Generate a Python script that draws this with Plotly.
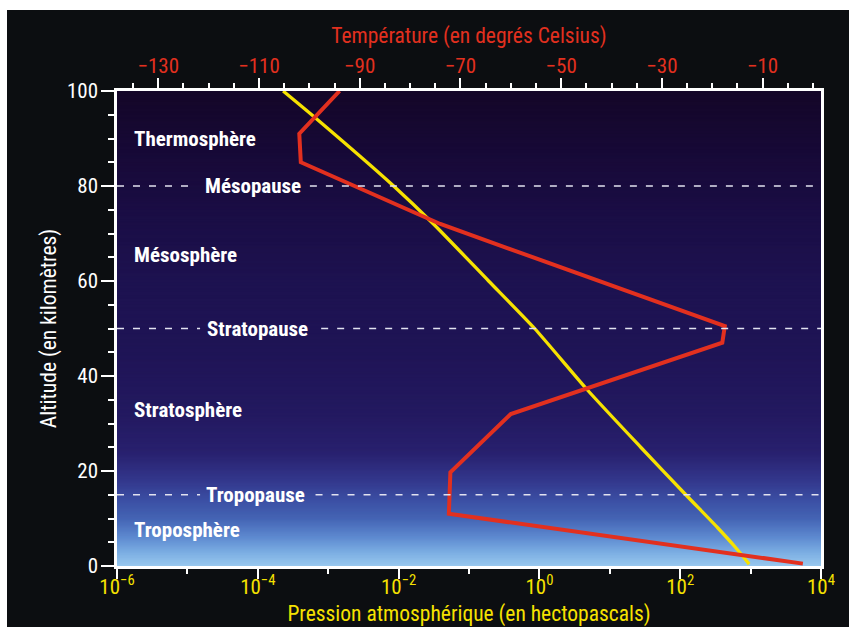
import plotly.graph_objects as go

# ---- data ----
temp_altitude_km = [100, 91, 85, 72, 50.5, 47, 32, 19.7, 11, 0.5]
temperature_c = [-94, -102, -101.7, -74, -17.5, -18, -60, -72, -72.3, -2]

pressure_altitude_km = [100, 94, 80, 72, 60, 50, 37, 25, 15, 8, 4, 0.4]
pressure_hpa = [2.29e-4, 7.0e-4, 8.5e-3, 0.0313, 0.19, 0.855, 4.85, 27.5, 120, 343, 603, 955]

pressure_tickvals = [1e-6, 1e-4, 1e-2, 1, 1e2, 1e4]
pressure_ticktext = ["10<sup>−6</sup>", "10<sup>−4</sup>", "10<sup>−2</sup>",
                     "10<sup>0</sup>", "10<sup>2</sup>", "10<sup>4</sup>"]
pressure_minor = [1e-5, 1e-3, 1e-1, 1e1, 1e3]
temp_tickvals = [-130, -110, -90, -70, -50, -30, -10]

layer_names = ["Thermosphère", "Mésosphère", "Stratosphère", "Troposphère"]
layer_alt = [90, 65.5, 32.8, 7.6]
boundary_names = ["Mésopause", "Stratopause", "Tropopause"]
boundary_alt = [80, 50, 15]

# ---- style ----
FONT = "Roboto Condensed, Roboto, Liberation Sans, sans-serif"
RED = "#e2301f"
YELLOW = "#f6e200"
WHITE = "#ffffff"
BG = "#0c0e11"

grad_stops = [
    (0, (152, 200, 238)), (3, (122, 172, 226)), (6, (94, 138, 208)),
    (10, (68, 100, 180)), (14, (59, 78, 163)), (18, (51, 55, 140)),
    (24, (40, 32, 110)), (32, (35, 25, 96)), (45, (31, 20, 86)),
    (60, (29, 18, 80)), (75, (26, 13, 68)), (88, (23, 9, 54)), (100, (20, 6, 40)),
]


def grad_color(a):
    for (a0, c0), (a1, c1) in zip(grad_stops[:-1], grad_stops[1:]):
        if a0 <= a <= a1:
            t = (a - a0) / (a1 - a0)
            c = [round(c0[i] + (c1[i] - c0[i]) * t) for i in range(3)]
            return "rgb(%d,%d,%d)" % tuple(c)
    return "rgb(%d,%d,%d)" % grad_stops[-1][1]


fig = go.Figure()

fig.add_trace(go.Scatter(
    x=pressure_hpa, y=pressure_altitude_km, mode="lines",
    line=dict(color=YELLOW, width=3.3, shape="spline", smoothing=0.6),
    xaxis="x", yaxis="y", showlegend=False, hoverinfo="skip"))

fig.add_trace(go.Scatter(
    x=temperature_c, y=temp_altitude_km, mode="lines",
    line=dict(color=RED, width=4),
    xaxis="x2", yaxis="y", showlegend=False, hoverinfo="skip"))

shapes = []
step = 0.25
n = int(100 / step)
for i in range(n):
    a0 = i * step
    shapes.append(dict(type="rect", xref="paper", yref="y", x0=0, x1=1,
                       y0=a0, y1=min(a0 + step + 0.2, 100),
                       fillcolor=grad_color(a0 + step / 2), line=dict(width=0),
                       layer="below"))

# dashed boundary lines with gaps for labels
gaps = [(0.104, 0.274), (0.118, 0.290), (0.118, 0.282)]
for alt, (g0, g1) in zip(boundary_alt, gaps):
    for xa, xb in [(0, g0), (g1, 1)]:
        shapes.append(dict(type="line", xref="paper", yref="y", x0=xa, x1=xb,
                           y0=alt, y1=alt,
                           line=dict(color="#e2e2f0", width=1.7, dash="7px,9px"),
                           layer="above"))

annotations = []
for name, alt in zip(layer_names, layer_alt):
    annotations.append(dict(text="<b>%s</b>" % name, xref="paper", yref="y",
                            x=0.022, y=alt, xanchor="left", yanchor="middle",
                            showarrow=False,
                            font=dict(family=FONT, size=21, color=WHITE)))
label_x = [0.122, 0.125, 0.124]
for name, alt, lx in zip(boundary_names, boundary_alt, label_x):
    annotations.append(dict(text="<b>%s</b>" % name, xref="paper", yref="y",
                            x=lx, y=alt, xanchor="left", yanchor="middle",
                            showarrow=False,
                            font=dict(family=FONT, size=21, color=WHITE)))

fig.update_layout(
    width=842, height=617,
    margin=dict(l=110, r=28, t=81, b=61),
    paper_bgcolor=BG, plot_bgcolor="#1d1250",
    shapes=shapes, annotations=annotations,
    xaxis=dict(
        type="log", range=[-6, 4], side="bottom", anchor="y", automargin=False,
        tickmode="array", tickvals=pressure_tickvals, ticktext=pressure_ticktext,
        ticks="outside", ticklen=10, tickwidth=2, tickcolor=WHITE,
        tickfont=dict(family=FONT, size=21, color=YELLOW), ticklabelstandoff=-10,
        showline=True, linecolor=WHITE, linewidth=2.5,
        showgrid=False, zeroline=False,
        minor=dict(tickmode="array", tickvals=pressure_minor, ticks="outside",
                   ticklen=5, tickwidth=2, tickcolor=WHITE, showgrid=False),
        title=dict(text="Pression atmosphérique (en hectopascals)",
                   font=dict(family=FONT, size=21.5, color=YELLOW), standoff=8),
    ),
    xaxis2=dict(
        overlaying="x", side="top", anchor="y", range=[-138.2, 1.6], automargin=False,
        tickmode="array", tickvals=temp_tickvals,
        ticks="outside", ticklen=10, tickwidth=2, tickcolor=WHITE,
        tickfont=dict(family=FONT, size=21, color=RED), ticklabelstandoff=-3,
        showline=True, linecolor=WHITE, linewidth=2.5,
        showgrid=False, zeroline=False,
        minor=dict(tick0=-130, dtick=5, ticks="outside", ticklen=5,
                   tickwidth=2, tickcolor=WHITE, showgrid=False),
        title=dict(text="Température (en degrés Celsius)",
                   font=dict(family=FONT, size=21.5, color=RED), standoff=5),
    ),
    yaxis=dict(
        range=[0, 100], tickmode="linear", tick0=0, dtick=20, automargin=False,
        ticks="outside", ticklen=13, tickwidth=2, tickcolor=WHITE,
        tickfont=dict(family=FONT, size=21, color=WHITE), ticklabelstandoff=-1,
        showline=True, linecolor=WHITE, linewidth=2.5, mirror=True,
        showgrid=False, zeroline=False,
        minor=dict(dtick=5, ticks="outside", ticklen=6, tickwidth=2,
                   tickcolor=WHITE, showgrid=False),
        title=dict(text="Altitude (en kilomètres)",
                   font=dict(family=FONT, size=21.5, color=WHITE), standoff=5),
    ),
)

fig.write_html(
    "out.html",
    post_script="document.body.style.margin='10px 0 0 7px';"
                "document.body.style.overflow='hidden';",
)
